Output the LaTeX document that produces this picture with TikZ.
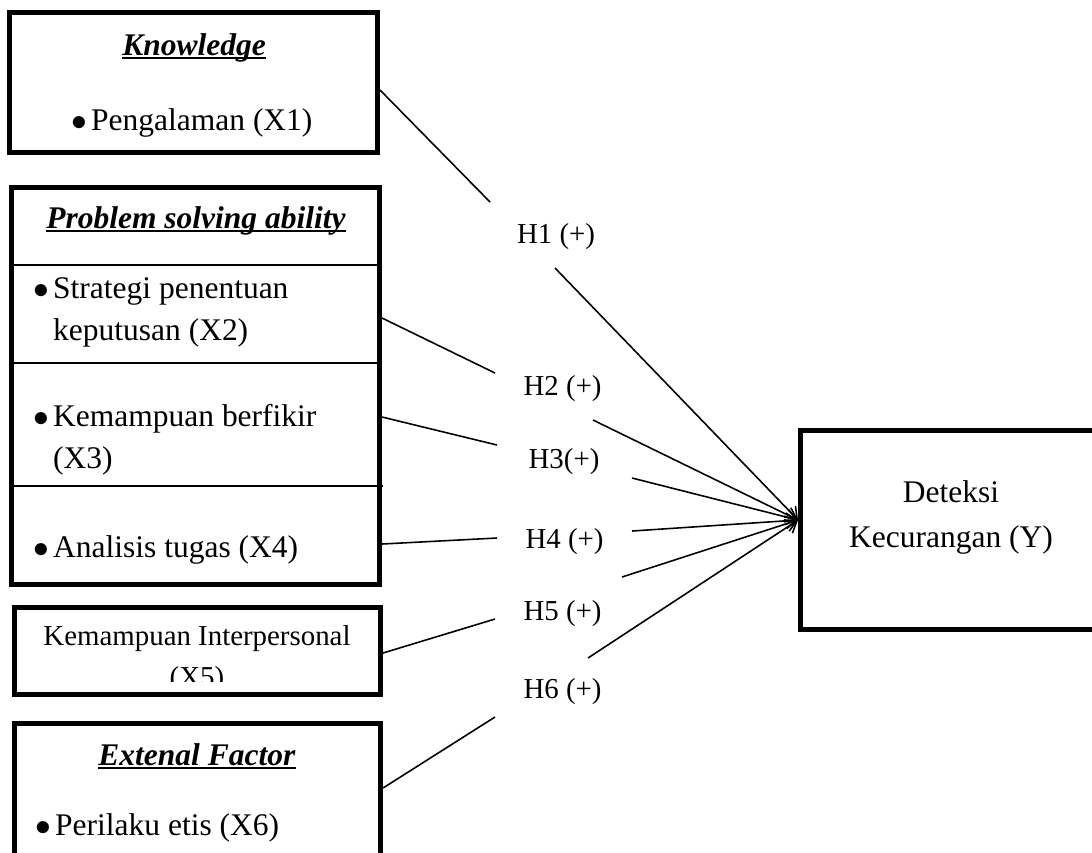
\documentclass[tikz,border=0pt]{standalone}
\usepackage{fontspec}
\setmainfont{Liberation Serif}
\usetikzlibrary{arrows.meta, calc, fit}

\newsavebox{\judulbox}
\newcommand{\bul}{\makebox[7.5pt][l]{$\bullet$}}
\newcommand{\judul}[1]{\sbox{\judulbox}{\textbf{\textit{#1}}}\rlap{\usebox{\judulbox}}\rule[-1.4pt]{\wd\judulbox}{0.75pt}}

\begin{document}
\begin{tikzpicture}[x=0.381pt, y=-0.381pt,
		every node/.style={inner sep=0pt, font=\fontsize{12}{16}\selectfont},
		varBox/.style={draw, line width=1.9pt, inner sep=0pt},
		divider/.style={line width=0.75pt},
		linkline/.style={line width=0.6pt},
		linkarrow/.style={line width=0.6pt, -{Straight Barb[length=4pt, width=6pt]}},
		hypLabel/.style={anchor=base, font=\fontsize{11}{13}\selectfont},
		itemText/.style={anchor=base west, align=left}
	]

	\useasboundingbox (0,0) rectangle (1092,852);
	\clip (0,0) rectangle (1092,852);

	% Knowledge
	\node[varBox, fit={(9.5,12.5) (377.5,152.5)}] (know) {};
	\node[anchor=base] (knowTitle) at (194,55) {\judul{Knowledge}};
	\node[itemText] (x1) at (71,130) {\bul Pengalaman (X1)};

	% Problem solving ability (base = last line)
	\node[varBox, fit={(11.5,187.5) (379.5,584.5)}] (psa) {};
	\draw[divider] (psa.west |- 0,265) -- (psa.east |- 0,265);
	\draw[divider] (psa.west |- 0,363) -- (psa.east |- 0,363);
	\draw[divider] (psa.west |- 0,486) -- (383,486);
	\node[anchor=base] (psaTitle) at (196,228) {\judul{Problem solving ability}};
	\node[itemText] (x2) at (33,340) {\bul Strategi penentuan\\\hspace*{7.5pt}keputusan (X2)};
	\node[itemText] (x3) at (33,468) {\bul Kemampuan berfikir\\\hspace*{7.5pt}(X3)};
	\node[itemText] (x4) at (33,557) {\bul Analisis tugas (X4)};

	% Kemampuan Interpersonal
	\node[varBox, fit={(14.5,607.5) (380.5,694.5)}] (interp) {};
	\begin{scope}
		\clip (20,610) rectangle (378,681);
		\node[anchor=base, align=center, font=\fontsize{11}{15.6}\selectfont] (x5) at (197,686) {Kemampuan Interpersonal\\(X5)};
	\end{scope}

	% Extenal Factor
	\node[varBox, fit={(14.5,723.5) (380.5,880)}] (ext) {};
	\node[anchor=base] (extTitle) at (197,765) {\judul{Extenal Factor}};
	\node[itemText] (x6) at (35,835) {\bul Perilaku etis (X6)};

	% Deteksi Kecurangan
	\node[varBox, fit={(800.5,430.5) (1120,629.5)}] (deteksi) {};
	\node[anchor=base, align=center, font=\fontsize{12}{16.8}\selectfont] (yText) at (951,547) {Deteksi\\Kecurangan (Y)};
	\coordinate (tip) at ($(deteksi.west)+(0,-10)$);

	% hipotesis
	\node[hypLabel] (h1) at (556,243) {H1 (+)};
	\node[hypLabel] (h2) at (562.5,395) {H2 (+)};
	\node[hypLabel] (h3) at (564,468) {H3(+)};
	\node[hypLabel] (h4) at (564.5,548) {H4 (+)};
	\node[hypLabel] (h5) at (562.5,620) {H5 (+)};
	\node[hypLabel] (h6) at (562.5,698) {H6 (+)};

	\coordinate (h1in) at (490,202); \coordinate (h1out) at (555,268);
	\coordinate (h2in) at (495,373); \coordinate (h2out) at (593,420);
	\coordinate (h3in) at (497,445); \coordinate (h3out) at (632,478);
	\coordinate (h4in) at (497,538); \coordinate (h4out) at (632,531);
	\coordinate (h5in) at (495,619); \coordinate (h5out) at (622,577);
	\coordinate (h6in) at (495,717); \coordinate (h6out) at (588,658);

	\draw[linkline] (know.east |- 0,90) -- (h1in);
	\draw[linkline] (psa.east |- 0,318) -- (h2in);
	\draw[linkline] (psa.east |- 0,417) -- (h3in);
	\draw[linkline] (psa.east |- 0,544) -- (h4in);
	\draw[linkline] (interp.east |- 0,653) -- (h5in);
	\draw[linkline] (ext.east |- 0,788) -- (h6in);

	\foreach \h in {h1,h2,h3,h4,h5,h6}
		\draw[linkarrow] (\h out) -- (tip);
\end{tikzpicture}
\end{document}
